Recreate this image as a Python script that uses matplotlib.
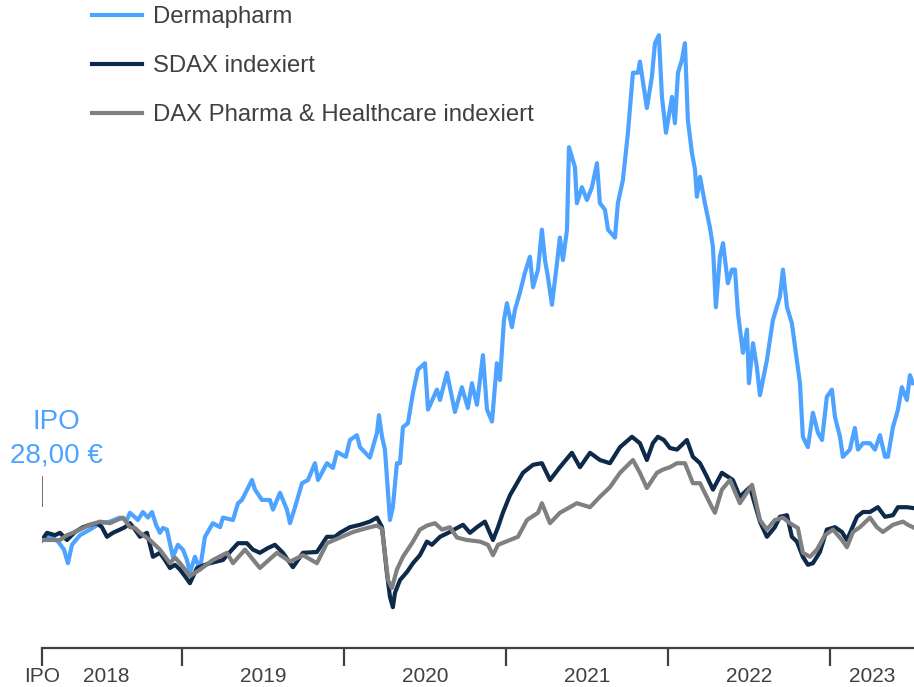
import matplotlib
matplotlib.use("Agg")
import matplotlib.pyplot as plt

plt.rcParams['font.family'] = ['Liberation Sans', 'DejaVu Sans']

# x values are decimal years, y values in EUR (indices rebased to the IPO price)
ipo_date = 2018.136
ipo_price = 28.0

derma_t = [2018.136, 2018.185, 2018.235, 2018.272, 2018.296, 2018.321, 2018.370, 2018.432, 2018.494, 2018.556,
           2018.617, 2018.660, 2018.679, 2018.728, 2018.759, 2018.790, 2018.815, 2018.840, 2018.864, 2018.883,
           2018.907, 2018.944, 2018.975, 2019.006, 2019.031, 2019.049, 2019.080, 2019.111, 2019.142, 2019.191,
           2019.235, 2019.253, 2019.315, 2019.346, 2019.370, 2019.432, 2019.451, 2019.494, 2019.543, 2019.562,
           2019.605, 2019.648, 2019.667, 2019.698, 2019.741, 2019.778, 2019.821, 2019.840, 2019.895, 2019.932,
           2019.957, 2019.994, 2020.012, 2020.037, 2020.080, 2020.099, 2020.160, 2020.204, 2020.216, 2020.235,
           2020.253, 2020.284, 2020.302, 2020.327, 2020.346, 2020.364, 2020.395, 2020.426, 2020.457, 2020.500,
           2020.519, 2020.574, 2020.593, 2020.636, 2020.685, 2020.728, 2020.765, 2020.790, 2020.821, 2020.858,
           2020.883, 2020.914, 2020.944, 2020.963, 2020.988, 2021.006, 2021.037, 2021.056, 2021.086, 2021.117,
           2021.148, 2021.167, 2021.198, 2021.222, 2021.241, 2021.259, 2021.284, 2021.315, 2021.333, 2021.352,
           2021.377, 2021.389, 2021.407, 2021.426, 2021.438, 2021.469, 2021.500, 2021.531, 2021.562, 2021.580,
           2021.611, 2021.630, 2021.673, 2021.691, 2021.722, 2021.753, 2021.784, 2021.815, 2021.827, 2021.870,
           2021.901, 2021.920, 2021.944, 2021.963, 2021.988, 2022.025, 2022.043, 2022.062, 2022.086, 2022.105,
           2022.123, 2022.148, 2022.167, 2022.179, 2022.198, 2022.228, 2022.259, 2022.278, 2022.296, 2022.321,
           2022.340, 2022.370, 2022.395, 2022.414, 2022.432, 2022.463, 2022.488, 2022.500, 2022.525, 2022.549,
           2022.568, 2022.611, 2022.648, 2022.691, 2022.710, 2022.735, 2022.765, 2022.796, 2022.815, 2022.833,
           2022.864, 2022.895, 2022.926, 2022.951, 2022.981, 2023.012, 2023.031, 2023.062, 2023.080, 2023.123,
           2023.154, 2023.173, 2023.204, 2023.247, 2023.278, 2023.309, 2023.340, 2023.358, 2023.389, 2023.420,
           2023.444, 2023.475, 2023.494, 2023.512]
derma_v = [28.0, 28.5, 27.8, 26.8, 25.1, 27.4, 28.6, 29.3, 30.1, 30.3,
           30.8, 30.5, 31.4, 30.5, 31.5, 30.8, 31.5, 29.9, 28.9, 29.5,
           29.3, 25.9, 27.4, 26.8, 25.5, 23.9, 25.9, 24.3, 28.4, 30.1,
           29.6, 30.8, 30.5, 32.6, 33.0, 35.5, 34.3, 33.0, 33.0, 31.8,
           33.9, 31.8, 30.1, 32.1, 35.1, 35.5, 37.6, 35.5, 37.6, 37.0,
           39.0, 38.6, 38.4, 40.5, 41.1, 39.6, 38.3, 41.4, 43.6, 40.9,
           39.3, 30.5, 32.1, 37.6, 37.6, 42.1, 42.6, 46.4, 49.3, 50.1,
           44.3, 46.8, 45.5, 48.9, 44.0, 47.1, 44.5, 47.6, 44.9, 51.1,
           44.3, 42.8, 50.1, 48.0, 55.5, 57.6, 54.6, 56.8, 58.9, 61.4,
           63.4, 59.6, 61.8, 66.8, 63.0, 60.9, 57.4, 62.6, 65.8, 63.0,
           66.8, 77.1, 75.9, 74.6, 70.1, 72.1, 70.5, 72.1, 75.1, 70.1,
           69.3, 66.8, 65.8, 70.1, 73.0, 78.9, 86.4, 86.4, 87.8, 82.0,
           85.9, 90.1, 91.1, 83.4, 78.9, 83.4, 80.1, 86.4, 88.0, 90.1,
           80.5, 76.4, 74.3, 70.9, 73.4, 70.1, 67.1, 64.6, 57.1, 63.4,
           65.1, 60.1, 61.8, 61.8, 56.4, 51.4, 54.3, 47.6, 52.6, 49.6,
           46.1, 50.5, 55.5, 58.4, 61.8, 57.1, 55.1, 50.5, 47.6, 40.9,
           39.6, 43.9, 41.4, 40.5, 45.9, 46.8, 43.4, 40.9, 38.4, 39.3,
           42.0, 39.3, 40.1, 40.1, 39.3, 41.1, 38.4, 38.4, 42.1, 44.3,
           47.1, 45.5, 48.6, 47.6]

sdax_t = [2018.136, 2018.167, 2018.216, 2018.247, 2018.290, 2018.340, 2018.389, 2018.432, 2018.475, 2018.506,
          2018.537, 2018.574, 2018.617, 2018.648, 2018.679, 2018.710, 2018.741, 2018.784, 2018.821, 2018.864,
          2018.895, 2018.926, 2018.957, 2018.988, 2019.025, 2019.049, 2019.093, 2019.130, 2019.173, 2019.253,
          2019.296, 2019.346, 2019.401, 2019.438, 2019.481, 2019.531, 2019.574, 2019.623, 2019.685, 2019.716,
          2019.747, 2019.833, 2019.895, 2019.944, 2019.975, 2020.037, 2020.099, 2020.160, 2020.204, 2020.235,
          2020.265, 2020.284, 2020.302, 2020.315, 2020.346, 2020.389, 2020.426, 2020.469, 2020.512, 2020.543,
          2020.593, 2020.654, 2020.698, 2020.735, 2020.778, 2020.821, 2020.870, 2020.920, 2020.951, 2020.981,
          2021.025, 2021.105, 2021.167, 2021.222, 2021.272, 2021.333, 2021.407, 2021.457, 2021.519, 2021.580,
          2021.642, 2021.704, 2021.778, 2021.827, 2021.870, 2021.907, 2021.938, 2021.975, 2022.012, 2022.056,
          2022.117, 2022.154, 2022.198, 2022.241, 2022.278, 2022.333, 2022.401, 2022.444, 2022.506, 2022.568,
          2022.611, 2022.660, 2022.691, 2022.735, 2022.765, 2022.796, 2022.833, 2022.864, 2022.895, 2022.938,
          2022.981, 2023.031, 2023.074, 2023.105, 2023.167, 2023.204, 2023.247, 2023.296, 2023.340, 2023.389,
          2023.420, 2023.475, 2023.512]
sdax_v = [28.0, 28.9, 28.6, 28.9, 28.0, 29.0, 29.6, 29.9, 30.1, 29.6,
          28.4, 28.9, 29.3, 29.6, 30.1, 29.3, 28.4, 28.9, 25.9, 26.4,
          25.5, 24.5, 24.9, 24.3, 23.3, 22.6, 24.5, 24.8, 25.1, 25.5,
          26.5, 27.6, 27.6, 26.8, 26.4, 27.0, 27.4, 26.4, 24.6, 25.5,
          26.4, 26.5, 28.4, 28.4, 28.9, 29.6, 29.9, 30.3, 30.8, 29.6,
          23.9, 20.9, 19.6, 21.4, 23.0, 24.0, 25.1, 26.1, 27.8, 27.4,
          28.4, 29.0, 29.5, 29.9, 28.9, 29.6, 30.3, 28.0, 29.6, 31.4,
          33.6, 36.4, 37.4, 37.6, 35.5, 37.1, 38.9, 37.1, 38.9, 38.0,
          37.6, 39.6, 40.9, 40.1, 38.0, 40.1, 40.9, 40.5, 39.5, 39.3,
          40.5, 38.4, 37.6, 35.9, 34.3, 36.4, 35.5, 33.4, 34.6, 30.3,
          28.4, 29.6, 30.9, 31.1, 28.4, 27.8, 25.9, 24.9, 25.1, 26.5,
          29.3, 29.6, 29.0, 28.0, 30.9, 31.5, 31.5, 32.1, 30.9, 31.1,
          32.1, 32.1, 32.0]

pharma_t = [2018.136, 2018.167, 2018.247, 2018.290, 2018.327, 2018.370, 2018.432, 2018.494, 2018.556, 2018.599,
            2018.636, 2018.679, 2018.710, 2018.741, 2018.802, 2018.833, 2018.864, 2018.926, 2018.957, 2018.988,
            2019.019, 2019.049, 2019.111, 2019.191, 2019.278, 2019.315, 2019.389, 2019.481, 2019.586, 2019.667,
            2019.747, 2019.833, 2019.895, 2019.975, 2020.056, 2020.142, 2020.204, 2020.235, 2020.272, 2020.296,
            2020.327, 2020.364, 2020.420, 2020.469, 2020.512, 2020.562, 2020.605, 2020.654, 2020.698, 2020.759,
            2020.840, 2020.889, 2020.920, 2020.951, 2021.025, 2021.074, 2021.130, 2021.198, 2021.222, 2021.272,
            2021.333, 2021.438, 2021.519, 2021.580, 2021.642, 2021.704, 2021.784, 2021.827, 2021.870, 2021.932,
            2021.969, 2022.012, 2022.056, 2022.105, 2022.154, 2022.198, 2022.259, 2022.290, 2022.333, 2022.383,
            2022.444, 2022.519, 2022.568, 2022.611, 2022.660, 2022.710, 2022.753, 2022.802, 2022.833, 2022.877,
            2022.920, 2022.969, 2023.019, 2023.074, 2023.105, 2023.142, 2023.185, 2023.247, 2023.290, 2023.327,
            2023.389, 2023.451, 2023.481, 2023.512]
pharma_v = [28.0, 28.0, 28.0, 28.6, 28.9, 29.3, 29.9, 30.3, 30.1, 30.5,
            30.8, 29.6, 29.5, 28.9, 28.0, 27.4, 26.8, 25.1, 25.8, 25.1,
            24.3, 23.5, 24.3, 25.5, 26.4, 25.1, 26.8, 24.5, 26.4, 25.3,
            26.1, 25.1, 27.6, 28.3, 29.0, 29.5, 29.8, 29.4, 23.0, 22.0,
            24.3, 25.9, 27.6, 29.3, 29.8, 30.1, 29.3, 29.6, 28.3, 28.0,
            27.8, 27.4, 26.1, 27.4, 28.0, 28.4, 30.5, 31.4, 32.6, 30.1,
            31.4, 32.6, 32.1, 33.4, 34.6, 36.4, 38.0, 36.4, 34.5, 36.4,
            36.8, 37.1, 37.6, 37.6, 35.1, 35.1, 32.6, 31.4, 34.3, 35.5,
            32.6, 34.9, 30.5, 29.3, 30.5, 30.8, 30.1, 29.5, 26.4, 25.9,
            26.8, 28.6, 29.3, 28.0, 27.1, 29.0, 29.6, 30.8, 29.6, 29.0,
            29.9, 30.3, 29.9, 29.6]

series_names = ['Dermapharm', 'SDAX indexiert', 'DAX Pharma & Healthcare indexiert']
series_colors = ['#4da3ff', '#0e2a4a', '#808080']

year_bounds = [2019, 2020, 2021, 2022, 2023]
year_label_pos = [2018.53, 2019.5, 2020.5, 2021.5, 2022.5, 2023.26]
year_labels = ['2018', '2019', '2020', '2021', '2022', '2023']

text_col = '#404040'

fig = plt.figure(figsize=(9.14, 6.87), dpi=100)
ax = fig.add_axes([42 / 914, 1 - 648 / 687, 872 / 914, 648 / 687])

for t, v, name, col in zip([derma_t, sdax_t, pharma_t], [derma_v, sdax_v, pharma_v],
                           series_names, series_colors):
    ax.plot(t, v, color=col, lw=3.0, label=name, solid_joinstyle='round')

ax.set_xlim(ipo_date, 2023.519)
ax.set_ylim(14.5, 95.5)

for s in ['top', 'right', 'left']:
    ax.spines[s].set_visible(False)
ax.spines['bottom'].set_color(text_col)
ax.spines['bottom'].set_linewidth(1.6)
ax.set_yticks([])

ax.set_xticks([ipo_date] + year_bounds)
ax.set_xticklabels([])
ax.set_xticks([ipo_date] + year_label_pos, minor=True)
ax.set_xticklabels(['IPO'] + year_labels, minor=True)
ax.xaxis.remove_overlapping_locs = False
ax.tick_params(axis='x', which='major', length=13, width=1.6, color=text_col, direction='out')
ax.tick_params(axis='x', which='minor', length=0, pad=14, labelsize=15, labelcolor=text_col)

# IPO marker and label
ax.plot([ipo_date, ipo_date], [ipo_price + 34 / 8, ipo_price + 63 / 8], color='#707070', lw=1.4)
ax.annotate('IPO\n28,00 €', xy=(ipo_date, ipo_price), xytext=(14, 101),
            textcoords='offset pixels', ha='center', va='center', fontsize=20,
            color=series_colors[0], linespacing=1.4, annotation_clip=False)

ax.legend(loc='upper left', bbox_to_anchor=(92 / 914, 1 - 6 / 687), bbox_transform=fig.transFigure,
          frameon=False, fontsize=17.2, handlelength=2.1, handletextpad=0.45, labelspacing=1.14,
          borderpad=0, borderaxespad=0, labelcolor=text_col)

fig.savefig('out.png', dpi=100)
